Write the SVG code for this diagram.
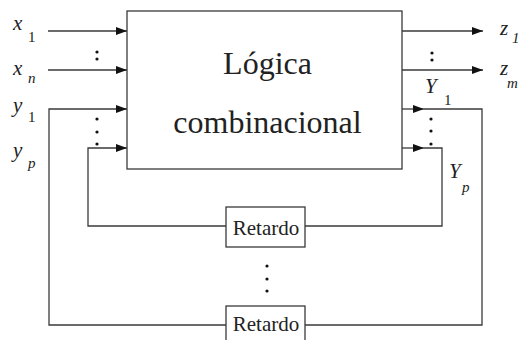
<svg xmlns="http://www.w3.org/2000/svg" width="525" height="340" viewBox="0 0 525 340">
<style>
.ln{fill:none;stroke:#3a3a3a;stroke-width:1.3}
.bx{fill:#fff;stroke:#3a3a3a;stroke-width:1.3}
text{font-family:'Liberation Serif','Times New Roman',Times,serif;fill:#222}
.big{font-size:32px}
.rt{font-size:21px}
.v{font-style:italic;font-size:21px}
.s{font-size:15px}
.si{font-style:italic;font-size:15px}
.d{fill:#111}
</style>
<defs>
<marker id="ah" viewBox="0 0 11 8" refX="11" refY="4" markerWidth="11" markerHeight="8" markerUnits="userSpaceOnUse" orient="auto">
<path d="M0,0 L11,4 L0,8 Z" fill="#111"/>
</marker>
</defs>
<g id="connectors">
<line class="ln" x1="48" y1="31" x2="127" y2="31" marker-end="url(#ah)"/>
<line class="ln" x1="48" y1="70" x2="127" y2="70" marker-end="url(#ah)"/>
<polyline class="ln" points="226,325 49,325 49,109 127,109" marker-end="url(#ah)"/>
<polyline class="ln" points="226,226 88,226 88,148 127,148" marker-end="url(#ah)"/>
<line class="ln" x1="402" y1="31" x2="483" y2="31" marker-end="url(#ah)"/>
<line class="ln" x1="402" y1="70" x2="483" y2="70" marker-end="url(#ah)"/>
<line class="ln" x1="402" y1="109" x2="424" y2="109" marker-end="url(#ah)"/>
<polyline class="ln" points="424,109 482,109 482,325 305,325"/>
<line class="ln" x1="402" y1="148" x2="424" y2="148" marker-end="url(#ah)"/>
<polyline class="ln" points="424,148 442,148 442,226 305,226"/>
</g>
<g id="logica">
<rect class="bx" x="127" y="11" width="275" height="158"/>
<text class="big" x="267.5" y="74" text-anchor="middle">Lógica</text>
<text class="big" x="267.5" y="133" text-anchor="middle">combinacional</text>
</g>
<g id="retardo1">
<rect class="bx" x="226" y="207" width="79" height="40"/>
<text class="rt" x="266" y="235" text-anchor="middle">Retardo</text>
</g>
<g id="retardo2">
<rect class="bx" x="226" y="306" width="79" height="40"/>
<text class="rt" x="266" y="331" text-anchor="middle">Retardo</text>
</g>
<g id="labels">
<text class="v" x="13" y="30">x</text><text class="s" x="28" y="42">1</text>
<text class="v" x="13" y="75">x</text><text class="si" x="28" y="83">n</text>
<text class="v" x="13" y="112">y</text><text class="s" x="28" y="122">1</text>
<text class="v" x="13" y="157">y</text><text class="si" x="28" y="168">p</text>
<text class="v" x="500" y="35">z</text><text class="si" x="512" y="43">1</text>
<text class="v" x="500" y="75">z</text><text class="si" x="507" y="88">m</text>
<text class="v" x="425" y="93">Y</text><text class="s" x="444" y="105">1</text>
<text class="v" x="449" y="178">Y</text><text class="si" x="462" y="192">p</text>
</g>
<g id="dots">
<circle class="d" cx="97" cy="52" r="1.6"/><circle class="d" cx="97" cy="59" r="1.6"/>
<circle class="d" cx="432" cy="53" r="1.6"/><circle class="d" cx="432" cy="60" r="1.6"/>
<circle class="d" cx="97" cy="119" r="1.6"/><circle class="d" cx="97" cy="132" r="1.6"/><circle class="d" cx="97" cy="144" r="1.6"/>
<circle class="d" cx="431" cy="119" r="1.6"/><circle class="d" cx="431" cy="131" r="1.6"/><circle class="d" cx="431" cy="144" r="1.6"/>
<circle class="d" cx="267" cy="266" r="1.6"/><circle class="d" cx="267" cy="279" r="1.6"/><circle class="d" cx="267" cy="291" r="1.6"/>
</g>
</svg>
